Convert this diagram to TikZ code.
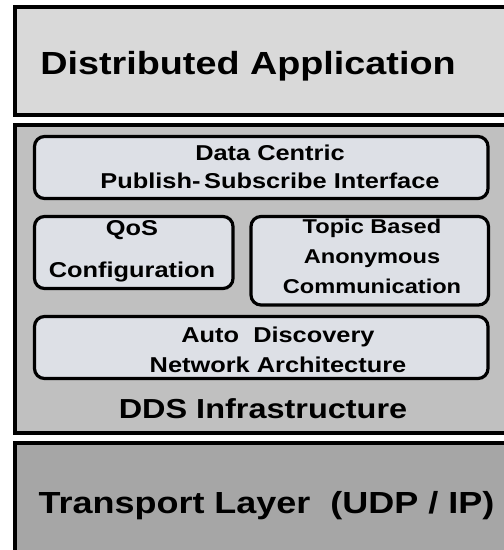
\documentclass[tikz,border=0pt]{standalone}
\usepackage{fontspec}
\setmainfont{Liberation Sans}[FakeStretch=1.18]
\usepackage{xcolor}
\usepackage{tikz}
\usetikzlibrary{positioning}
\definecolor{appgray}{RGB}{217,217,217}
\definecolor{ddsgray}{RGB}{192,192,192}
\definecolor{netgray}{RGB}{166,166,166}
\definecolor{partfill}{RGB}{221,224,230}

\begin{document}
\begin{tikzpicture}[x=1pt, y=-1pt,
    layerbox/.style={draw=black, line width=4pt, anchor=north west,
      outer sep=0pt, inner sep=0pt},
    partbox/.style={draw=black, line width=3.2pt, rounded corners=10pt,
      fill=partfill, anchor=north west, outer sep=0pt, inner sep=0pt},
    bigtext/.style={anchor=base, inner sep=0pt, font=\fontsize{#1}{#1}\selectfont\bfseries},
    parttext/.style 2 args={anchor=base, inner sep=0pt, align=center,
      font=\fontsize{#1}{#2}\selectfont\bfseries}]
  \useasboundingbox (0,0) rectangle (504,550);
  \clip (0,0) rectangle (504,550);
  % the three layers
  \node[layerbox, fill=appgray, minimum width=530pt, minimum height=108pt] (app) at (15,7) {};
  \node[layerbox, fill=ddsgray, minimum width=530pt, minimum height=308pt] (dds) at (15,124.5) {};
  \node[layerbox, fill=netgray, minimum width=530pt, minimum height=130pt] (net) at (15,442.5) {};
  % parts of the DDS layer
  \node[partbox, minimum width=453.5pt, minimum height=62pt] (pubsub) at (34.5,136.5) {};
  \node[partbox, minimum width=198.5pt, minimum height=72pt] (qos) at (34.5,216.5) {};
  \node[partbox, minimum width=237.5pt, minimum height=88.5pt] (topic) at (251,216.5) {};
  \node[partbox, minimum width=453.5pt, minimum height=62pt] (discovery) at (34.5,316.5) {};
  % texts (base = last line)
  \node[bigtext=32] (apptext) at (248,74) {Distributed Application};
  \node[parttext={21.5}{28}] (pubsubtext) at (270,188) {Data Centric\\Publish-\,Subscribe Interface};
  \node[parttext={21.5}{42}] (qostext) at (132,277) {QoS\\Configuration};
  \node[parttext={20}{30}] (topictext) at (372,293) {Topic Based\\Anonymous\\Communication};
  \node[parttext={21.5}{30}] (discoverytext) at (278,372) {Auto\ \ Discovery\\Network Architecture};
  \node[bigtext=27.5] (ddstext) at (263,418) {DDS Infrastructure};
  \node[bigtext=30.5] (nettext) at (266.5,513) {Transport Layer\ \ (UDP / IP)};
\end{tikzpicture}
\end{document}
